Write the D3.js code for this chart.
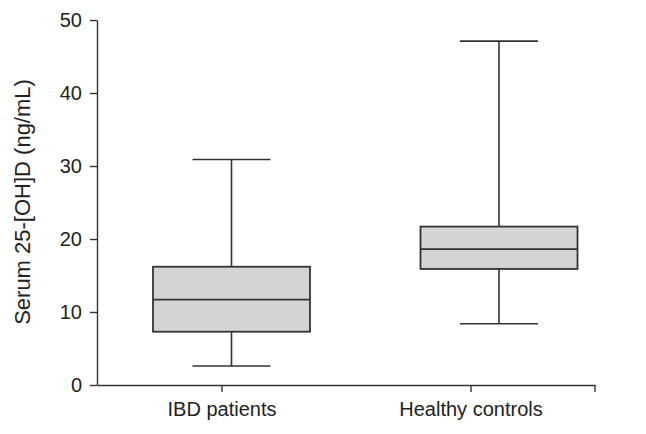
<!DOCTYPE html>
<html>
<head>
<meta charset="utf-8">
<script src="https://cdn.jsdelivr.net/npm/d3@7"></script>
<style>
  body { margin: 0; background: #fff; }
  text { font-family: "Liberation Sans", Arial, sans-serif; fill: #222; }
</style>
</head>
<body>
<div id="chart"></div>
<script>
// data
const categories = ['IBD patients', 'Healthy controls'];
const minValues = [2.6, 8.4];
const q1Values = [7.3, 15.9];
const medianValues = [11.7, 18.6];
const q3Values = [16.2, 21.7];
const maxValues = [30.9, 47.1];
const yTicks = [0, 10, 20, 30, 40, 50];

const width = 646;
const height = 434;

const svg = d3.select('#chart')
  .append('svg')
  .attr('width', width)
  .attr('height', height);

/* Scales */
const y = d3.scaleLinear().domain([0, 50]).range([385, 20]);
const x = d3.scalePoint().domain(categories).range([97, 595]).padding(0.5);
// boxes sit a bit right of the category ticks in the original
const boxX = d3.scalePoint().domain(categories).range([231.5, 499]);
const boxWidth = 157;
const capWidth = 78;

const stroke = '#333';

/* Boxes */
const rows = categories.map((c, i) => ({
  cat: c, min: minValues[i], q1: q1Values[i], med: medianValues[i], q3: q3Values[i], max: maxValues[i]
}));

const g = svg.append('g').attr('class', 'boxes');
const box = g.selectAll('.box').data(rows).enter().append('g').attr('class', 'box');

box.append('line')
  .attr('x1', d => boxX(d.cat)).attr('x2', d => boxX(d.cat))
  .attr('y1', d => y(d.max)).attr('y2', d => y(d.q3))
  .attr('stroke', stroke).attr('stroke-width', 1.6);
box.append('line')
  .attr('x1', d => boxX(d.cat)).attr('x2', d => boxX(d.cat))
  .attr('y1', d => y(d.q1)).attr('y2', d => y(d.min))
  .attr('stroke', stroke).attr('stroke-width', 1.6);

['min', 'max'].forEach(k => {
  box.append('line')
    .attr('x1', d => boxX(d.cat) - capWidth / 2).attr('x2', d => boxX(d.cat) + capWidth / 2)
    .attr('y1', d => y(d[k])).attr('y2', d => y(d[k]))
    .attr('stroke', stroke).attr('stroke-width', 1.6);
});

box.append('rect')
  .attr('x', d => boxX(d.cat) - boxWidth / 2)
  .attr('width', boxWidth)
  .attr('y', d => y(d.q3))
  .attr('height', d => y(d.q1) - y(d.q3))
  .attr('fill', '#d3d4d6')
  .attr('stroke', stroke).attr('stroke-width', 1.8);

box.append('line')
  .attr('x1', d => boxX(d.cat) - boxWidth / 2).attr('x2', d => boxX(d.cat) + boxWidth / 2)
  .attr('y1', d => y(d.med)).attr('y2', d => y(d.med))
  .attr('stroke', stroke).attr('stroke-width', 1.8);

/* Axes */
const yAxis = d3.axisLeft(y).tickValues(yTicks).tickSize(7).tickSizeOuter(0).tickPadding(8);
const xAxis = d3.axisBottom(x).tickSize(7).tickSizeOuter(0).tickPadding(10);

const gy = svg.append('g').attr('transform', 'translate(97,0)').call(yAxis);
const gx = svg.append('g').attr('transform', 'translate(0,385)').call(xAxis);

[gx, gy].forEach(a => {
  a.attr('font-size', null);
  a.selectAll('path, line').attr('stroke', stroke).attr('stroke-width', 1.4);
  a.selectAll('text').style('font-size', '20px').attr('fill', '#222');
});

// end tick on the right of the x axis
gx.append('line')
  .attr('x1', x.range()[1]).attr('x2', x.range()[1])
  .attr('y1', 0).attr('y2', 7)
  .attr('stroke', stroke).attr('stroke-width', 1.4);

svg.append('text')
  .attr('transform', 'translate(30,202) rotate(-90)')
  .attr('text-anchor', 'middle')
  .style('font-size', '22px')
  .text('Serum 25-[OH]D (ng/mL)');
</script>
</body>
</html>
